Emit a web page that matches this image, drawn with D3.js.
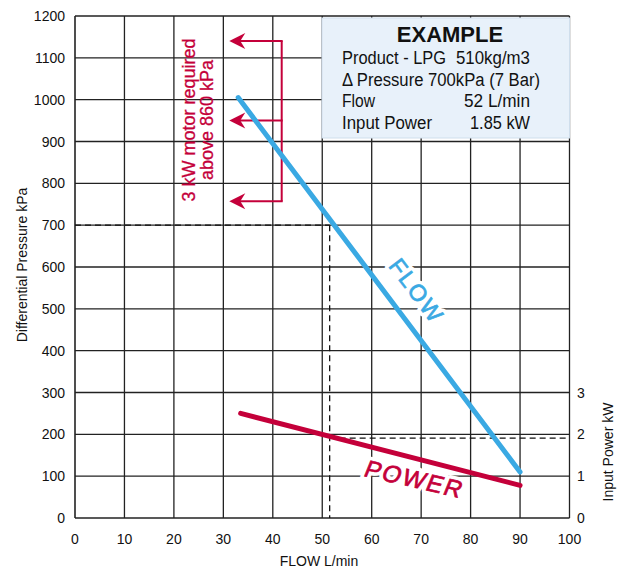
<!DOCTYPE html>
<html><head><meta charset="utf-8">
<script src="https://cdn.jsdelivr.net/npm/d3@7"></script>
<style>
html,body{margin:0;padding:0;background:#fff;}
svg text{font-family:"Liberation Sans",Arial,Helvetica,sans-serif;}
</style></head>
<body><svg id="c" width="624" height="569"></svg>
<script>
// ---- data ----
const xTicks = [0,10,20,30,40,50,60,70,80,90,100];
const yTicks = [0,100,200,300,400,500,600,700,800,900,1000,1100,1200];
const powerTicks = [0,1,2,3];
const flowX = [33, 90];          // L/min
const flowP = [1005, 110];       // kPa
const powerX = [33.5, 90];       // L/min
const powerKW = [2.5, 0.78];     // kW
const exampleFlow = 51.5;        // L/min
const examplePressure = 700;     // kPa
const examplePower = 1.91;       // kW
const arrowLevels = [1140, 950, 757]; // kPa
const exampleLabels = ["Product - LPG", "\u0394 Pressure 700kPa (7 Bar)", "Flow", "Input Power"];
const exampleValues = ["510kg/m3", "", "52 L/min", "1.85 kW"];

const RED = "#c4003a", BLUE = "#3aa9e3";
const svg = d3.select("#c");
const x = d3.scaleLinear().domain([0,100]).range([75,569.5]);
const y = d3.scaleLinear().domain([0,1200]).range([518,16]);
const yP = d3.scaleLinear().domain([0,12]).range([518,16]); // kW, 1 kW = 100 kPa

// grid
const g = svg.append("g");
g.selectAll("line.v").data(xTicks).join("line")
  .attr("x1",d=>x(d)).attr("x2",d=>x(d)).attr("y1",y(0)).attr("y2",y(1200))
  .attr("stroke","#222").attr("stroke-width",d=>d===0?1.6:1.3);
g.selectAll("line.h").data(yTicks).join("line")
  .attr("y1",d=>y(d)).attr("y2",d=>y(d)).attr("x1",x(0)).attr("x2",x(100))
  .attr("stroke","#222").attr("stroke-width",d=>d===0?1.6:1.3);

// tick labels
svg.append("g").selectAll("text").data(yTicks).join("text")
  .attr("x",65).attr("y",d=>y(d)+5).attr("text-anchor","end")
  .attr("font-size",14).attr("fill","#111").text(d=>d);
svg.append("g").selectAll("text").data(xTicks).join("text")
  .attr("x",d=>x(d)).attr("y",544).attr("text-anchor","middle")
  .attr("font-size",14).attr("fill","#111").text(d=>d);
svg.append("g").selectAll("text").data(powerTicks).join("text")
  .attr("x",577).attr("y",d=>yP(d)+5).attr("text-anchor","start")
  .attr("font-size",14).attr("fill","#111").text(d=>d);

// axis titles
svg.append("text").attr("transform","translate(27,265) rotate(-90)")
  .attr("text-anchor","middle").attr("font-size",14).attr("fill","#111")
  .text("Differential Pressure kPa");
svg.append("text").attr("x",319).attr("y",566).attr("text-anchor","middle")
  .attr("font-size",14).attr("fill","#111").text("FLOW L/min");
svg.append("text").attr("transform","translate(613,452) rotate(-90)")
  .attr("text-anchor","middle").attr("font-size",14).attr("fill","#111")
  .text("Input Power kW");

// dashed reference lines
const dash = svg.append("g").attr("stroke","#111").attr("stroke-width",1.3).attr("stroke-dasharray","6,4");
dash.append("line").attr("x1",x(0)).attr("x2",x(exampleFlow)).attr("y1",y(examplePressure)).attr("y2",y(examplePressure));
dash.append("line").attr("x1",x(exampleFlow)).attr("x2",x(exampleFlow)).attr("y1",y(examplePressure)).attr("y2",y(0));
dash.append("line").attr("x1",x(exampleFlow)).attr("x2",x(100)).attr("y1",yP(examplePower)).attr("y2",yP(examplePower));

// example box
const box = svg.append("g");
box.append("rect").attr("x",322).attr("y",18).attr("width",247.5).attr("height",120)
  .attr("fill","#e8f1fa").attr("stroke","#cfdeec").attr("stroke-width",1);
box.append("text").attr("x",450).attr("y",42).attr("text-anchor","middle")
  .attr("font-size",22).attr("font-weight","bold").attr("fill","#111").text("EXAMPLE");
const labelLen = [104, 198, 33, 90];
const valStart = [456, 0, 464, 470];
const valLen = [74, 0, 66, 60];
exampleLabels.forEach((l,i)=>{
  const by = 64 + i*21.5;
  box.append("text").attr("x",342).attr("y",by)
    .attr("font-size",18).attr("fill","#111")
    .attr("textLength",labelLen[i]).attr("lengthAdjust","spacingAndGlyphs").text(l);
  if(exampleValues[i]) box.append("text").attr("x",valStart[i]).attr("y",by)
    .attr("font-size",18).attr("fill","#111")
    .attr("textLength",valLen[i]).attr("lengthAdjust","spacingAndGlyphs").text(exampleValues[i]);
});

// annotation arrows
const ann = svg.append("g");
const ax0 = x(31.2), ax1 = x(41.8);
ann.append("line").attr("x1",ax1).attr("x2",ax1).attr("y1",y(arrowLevels[0])).attr("y2",y(arrowLevels[2]))
  .attr("stroke",RED).attr("stroke-width",2);
arrowLevels.forEach(v=>{
  const yy = y(v);
  ann.append("line").attr("x1",ax0+8).attr("x2",ax1+1).attr("y1",yy).attr("y2",yy)
    .attr("stroke",RED).attr("stroke-width",2);
  ann.append("path").attr("d",`M${ax0},${yy} L${ax0+16},${yy-8} L${ax0+11},${yy} L${ax0+16},${yy+8} Z`)
    .attr("fill",RED);
});
ann.append("text").attr("transform","translate(195,120) rotate(-90)").attr("text-anchor","middle")
  .attr("font-size",18).attr("fill",RED).attr("stroke",RED).attr("stroke-width",0.3)
  .text("3 kW motor required");
ann.append("text").attr("transform","translate(213,120) rotate(-90)").attr("text-anchor","middle")
  .attr("font-size",18).attr("fill",RED).attr("stroke",RED).attr("stroke-width",0.3)
  .text("above 860 kPa");

// curve labels with white halo
function curveLabel(tf, txt, size, col){
  const base = svg.append("g").attr("transform",tf);
  base.append("text").attr("text-anchor","middle").attr("dominant-baseline","middle")
    .attr("font-size",size).attr("letter-spacing",2).attr("fill","#fff")
    .attr("stroke","#fff").attr("stroke-width",8).attr("stroke-linejoin","round").text(txt);
  base.append("text").attr("text-anchor","middle").attr("dominant-baseline","middle")
    .attr("font-size",size).attr("letter-spacing",2).attr("fill",col)
    .attr("stroke",col).attr("stroke-width",0.7).text(txt);
}
curveLabel("translate(415,292) rotate(53)", "FLOW", 23, BLUE);
curveLabel("translate(414,481) rotate(13) skewX(-9)", "POWER", 24, RED);

// data lines
const flowData = flowX.map((v,i)=>[v,flowP[i]]);
const powerData = powerX.map((v,i)=>[v,powerKW[i]]);
svg.append("path").datum(flowData)
  .attr("d",d3.line().x(d=>x(d[0])).y(d=>y(d[1])))
  .attr("fill","none").attr("stroke",BLUE).attr("stroke-width",5).attr("stroke-linecap","round");
svg.append("path").datum(powerData)
  .attr("d",d3.line().x(d=>x(d[0])).y(d=>yP(d[1])))
  .attr("fill","none").attr("stroke",RED).attr("stroke-width",5).attr("stroke-linecap","round");
</script></body></html>
